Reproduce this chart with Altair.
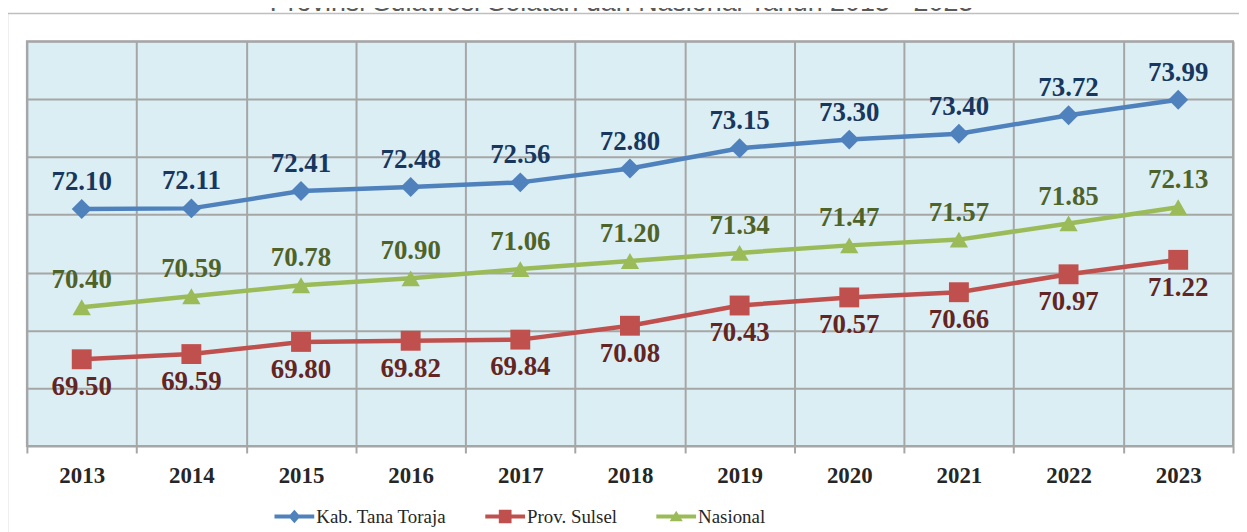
import altair as alt
import pandas as pd

years = ["2013", "2014", "2015", "2016", "2017", "2018", "2019", "2020", "2021", "2022", "2023"]
series_names = ["Kab. Tana Toraja", "Prov. Sulsel", "Nasional"]
toraja = [72.10, 72.11, 72.41, 72.48, 72.56, 72.80, 73.15, 73.30, 73.40, 73.72, 73.99]
sulsel = [69.50, 69.59, 69.80, 69.82, 69.84, 70.08, 70.43, 70.57, 70.66, 70.97, 71.22]
nasional = [70.40, 70.59, 70.78, 70.90, 71.06, 71.20, 71.34, 71.47, 71.57, 71.85, 72.13]
title_text = "Provinsi Sulawesi Selatan dan Nasional Tahun 2013 - 2023"

line_colors = ["#4F81BD", "#C0504D", "#9BBB59"]
label_colors = ["#17375E", "#632523", "#4F6228"]
marker_shapes = ["diamond", "square", "triangle-up"]
marker_sizes = [400, 400, 340]
label_dy = [-19, 36, -19]
legend_paths = [
    "M-1,-0.1H1V0.1H-1Z M0,-0.34L0.3,0L0,0.34L-0.3,0Z",
    "M-1,-0.1H1V0.1H-1Z M-0.32,-0.34H0.32V0.34H-0.32Z",
    "M-1,-0.1H1V0.1H-1Z M0,-0.3L0.33,0.24H-0.33Z",
]

rows = []
for name, vals in zip(series_names, [toraja, sulsel, nasional]):
    for y, v in zip(years, vals):
        rows.append({"Tahun": y, "Seri": name, "Nilai": v})
df = pd.DataFrame(rows)

x_enc = alt.X(
    "Tahun:N",
    sort=years,
    scale=alt.Scale(type="band", paddingInner=0, paddingOuter=0),
    axis=alt.Axis(
        title=None, labelAngle=0, grid=True, tickBand="extent", domain=False,
        ticks=True, tickSize=7, tickColor="#A6A6A6", tickWidth=2,
        gridColor="#A6A6A6", gridWidth=2,
        labelFont="Liberation Serif", labelFontWeight="bold", labelFontSize=23,
        labelColor="#262626", labelPadding=12,
    ),
)
y_enc = alt.Y(
    "Nilai:Q",
    scale=alt.Scale(domain=[68, 75], nice=False, zero=False),
    axis=alt.Axis(values=[68, 69, 70, 71, 72, 73, 74, 75], grid=True, labels=False,
                  ticks=False, domain=False, title=None,
                  gridColor="#A6A6A6", gridWidth=2),
)

legend_def = alt.Legend(
    title=None, orient="none", legendX=249, legendY=458, direction="horizontal",
    labelFont="Liberation Serif", labelFontSize=19, labelColor="#262626",
    symbolSize=1600, symbolStrokeWidth=0, labelOffset=2, columnPadding=39,
    padding=0, symbolOpacity=1, labelLimit=400,
)

base = alt.Chart(df)

legend_layer = base.mark_point(filled=True, opacity=0).encode(
    x=x_enc, y=y_enc,
    color=alt.Color("Seri:N", scale=alt.Scale(domain=series_names, range=line_colors),
                    sort=series_names, legend=legend_def),
    shape=alt.Shape("Seri:N", scale=alt.Scale(domain=series_names, range=legend_paths),
                    sort=series_names, legend=legend_def),
)

line_layers = []
mark_layers = []
for i, name in enumerate(series_names):
    sub = base.transform_filter(alt.datum.Seri == name)
    line_layers.append(
        sub.mark_line(strokeWidth=4.5, color=line_colors[i]).encode(x=x_enc, y=y_enc)
    )
    mark_layers.append(
        sub.mark_point(filled=True, shape=marker_shapes[i], size=marker_sizes[i],
                       color=line_colors[i], opacity=1).encode(x=x_enc, y=y_enc)
    )
    mark_layers.append(
        sub.mark_text(font="Liberation Serif", fontWeight="bold", fontSize=27,
                      color=label_colors[i], baseline="alphabetic", dy=label_dy[i]).encode(
            x=x_enc, y=y_enc, text=alt.Text("Nilai:Q", format=".2f"))
    )

deco = alt.Chart(pd.DataFrame({"t": [title_text]}))
frame = deco.mark_rect(fillOpacity=0, stroke="#BFBFBF", strokeWidth=1.5).encode(
    x=alt.value(-19.5), x2=alt.value(1300), y=alt.value(-28), y2=alt.value(600)
)
title = deco.mark_text(font="Liberation Sans", fontSize=27, color="#595959",
                       align="center", baseline="alphabetic").encode(
    x=alt.value(598), y=alt.value(-30), text="t:N"
)

chart = alt.layer(frame, title, legend_layer, *line_layers, *mark_layers).properties(
    width=1213, height=407,
    autosize=alt.AutoSizeParams(type="none"),
    padding={"left": 19, "top": 32, "right": 6, "bottom": 85},
).configure_view(
    stroke="#A6A6A6", strokeWidth=2, fill="#DBEEF4"
).configure_legend(
    labelFont="Liberation Serif", labelFontSize=19, labelColor="#262626",
    symbolSize=1600, symbolStrokeWidth=0,
)

chart.save("out.html", embed_options={"renderer": "svg", "actions": False})
